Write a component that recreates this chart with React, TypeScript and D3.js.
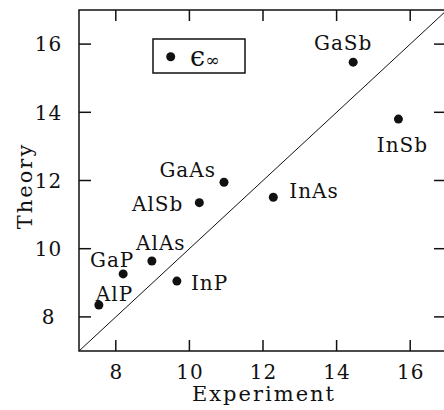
import React from "react";
import * as d3 from "d3";

const materials = ["GaSb", "InSb", "GaAs", "AlSb", "InAs", "AlAs", "GaP", "InP", "AlP"];
const experiment = [14.45, 15.68, 10.94, 10.27, 12.28, 8.98, 8.2, 9.66, 7.54];
const theory = [15.47, 13.8, 11.95, 11.35, 11.51, 9.64, 9.26, 9.05, 8.35];
const xTicks = [8, 10, 12, 14, 16];
const yTicks = [8, 10, 12, 14, 16];
// label placement: [dx, dy, anchor]
const labelPlacement: [number, number, string][] = [
  [-10, -12, "middle"],
  [4, 33, "middle"],
  [-8, -5, "end"],
  [-16, 8, "end"],
  [16, 1, "start"],
  [9, -11, "middle"],
  [-11, -7, "middle"],
  [14, 9, "start"],
  [-3, -4, "start"],
];

const W = 444;
const H = 410;
const left = 79;
const right = 447;
const top = 10;
const bottom = 351;
const FONT = "'DejaVu Serif', serif";

export default function App() {
  const x = d3.scaleLinear().domain([7, 17]).range([left, right]);
  const y = d3.scaleLinear().domain([7, 17]).range([bottom, top]);
  const textStyle = { fontFamily: FONT, fill: "#111" } as const;
  return (
    <svg width={W} height={H} style={{ position: "absolute", left: 0, top: 0, background: "#fff" }}>
      <rect x={0} y={0} width={W} height={H} fill="#fff" />
      {/* frame */}
      <rect x={left} y={top} width={right - left} height={bottom - top} fill="none" stroke="#111" strokeWidth={1.5} />
      {/* diagonal */}
      <line x1={x(7)} y1={y(7)} x2={x(17)} y2={y(17)} stroke="#111" strokeWidth={1} />
      {/* x ticks */}
      {xTicks.map((t) => (
        <g key={"x" + t}>
          <line x1={x(t)} x2={x(t)} y1={bottom} y2={bottom - 11} stroke="#111" strokeWidth={1.5} />
          <line x1={x(t)} x2={x(t)} y1={top} y2={top + 11} stroke="#111" strokeWidth={1.5} />
          <text x={x(t) + 0.5} y={379} textAnchor="middle" fontSize={20} letterSpacing={1} style={textStyle}>
            {t}
          </text>
        </g>
      ))}
      {/* y ticks */}
      {yTicks.map((t) => (
        <g key={"y" + t}>
          <line x1={left} x2={left + 12} y1={y(t)} y2={y(t)} stroke="#111" strokeWidth={1.5} />
          <line x1={right} x2={right - 13} y1={y(t)} y2={y(t)} stroke="#111" strokeWidth={1.5} />
          <text x={48.5} y={y(t)} dy="0.36em" textAnchor="middle" fontSize={20} letterSpacing={1} style={textStyle}>
            {t}
          </text>
        </g>
      ))}
      {/* axis titles */}
      <text x={(left + right) / 2 + 1} y={401} textAnchor="middle" fontSize={21} letterSpacing={2} style={textStyle}>
        Experiment
      </text>
      <text transform={`translate(32,${186}) rotate(-90)`} textAnchor="middle" fontSize={21} letterSpacing={2} style={textStyle}>
        Theory
      </text>
      {/* points */}
      {materials.map((m, i) => {
        const px = x(experiment[i]);
        const py = y(theory[i]);
        const [dx, dy, anchor] = labelPlacement[i];
        return (
          <g key={m}>
            <circle cx={px} cy={py} r={4.5} fill="#111" />
            <text x={px + dx} y={py + dy} textAnchor={anchor as any} fontSize={20} letterSpacing={1} style={textStyle}>
              {m}
            </text>
          </g>
        );
      })}
      {/* legend */}
      <rect x={153} y={39} width={92} height={34} fill="#fff" stroke="#111" strokeWidth={1.5} />
      <circle cx={170.7} cy={56.7} r={4.5} fill="#111" />
      <text x={190} y={66} fontSize={27} style={textStyle}>
        ϵ<tspan fontSize={17} dy={0}>∞</tspan>
      </text>
    </svg>
  );
}
